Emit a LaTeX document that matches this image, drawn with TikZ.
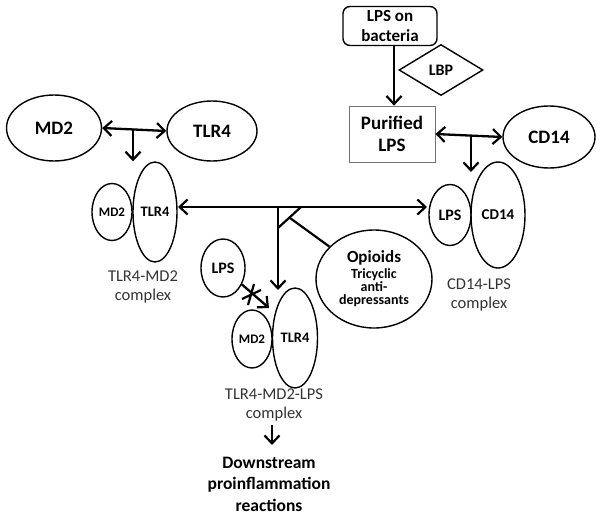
\documentclass[tikz,border=0pt]{standalone}
\usepackage{fontspec}
\setmainfont{Carlito}
\usetikzlibrary{arrows.meta,shapes.geometric}
\begin{document}
\begin{tikzpicture}[x=1pt,y=-1pt,
  ell/.style={draw,ellipse,line width=1.4pt,inner sep=0pt,font=\bfseries},
  big/.style={font=\fontsize{19}{19}\selectfont\bfseries},
  lab/.style={text=black!80,font=\fontsize{16.5}{19}\selectfont,align=center},
  tip/.tip={Straight Barb[length=8pt,width=15pt,line width=2.2pt]},
  arr/.style={line width=2.3pt,-tip},
  darr/.style={line width=2.3pt,tip-tip},
  ln/.style={line width=2.2pt}]
\useasboundingbox (0,0) rectangle (601,516);
% left top
\node[ell,big,minimum width=95pt,minimum height=66pt] (md2) at (54,128) {MD2};
\node[ell,big,minimum width=90pt,minimum height=60pt] (tlr4) at (212,131) {TLR4};
\coordinate (j1) at (133,129);
\draw[darr] (md2.east) -- (tlr4.west);
% TLR4-MD2 complex
\node[ell,minimum width=40pt,minimum height=57pt,font=\fontsize{13}{13}\selectfont\bfseries] (cmd2) at (112,212) {MD2};
\node[ell,minimum width=44pt,minimum height=100pt,font=\fontsize{14.5}{14.5}\selectfont\bfseries] (ctlr4) at (155,212) {TLR4};
\draw[arr] (j1) -- (ctlr4.north -| j1);
\node[lab] (clab1) at (143,287) {TLR4-MD2\\complex};
% right top
\node[draw,rounded corners=7pt,line width=1.4pt,minimum width=94pt,minimum height=39pt,align=center,font=\fontsize{17}{19.5}\selectfont\bfseries] (bac) at (390,26) {LPS on\\bacteria};
\node[draw,diamond,aspect=1.65,line width=1.4pt,inner sep=0pt,minimum width=84pt,minimum height=51pt,font=\fontsize{16}{16}\selectfont\bfseries] (lbp) at (441,70) {LBP};
\node[draw=black!55,line width=0.8pt,minimum width=86pt,minimum height=56pt,align=center,font=\fontsize{19}{22}\selectfont\bfseries] (pur) at (392,134) {Purified\\LPS};
\draw[arr] (bac.south -| 394,0) -- (pur.north -| 394,0);
\node[ell,big,minimum width=92pt,minimum height=62pt] (cd14) at (549,137) {CD14};
\draw[darr] (pur.east) -- (cd14.west);
% CD14-LPS complex
\node[ell,minimum width=42pt,minimum height=61pt,font=\fontsize{16}{16}\selectfont\bfseries] (clps) at (450,215) {LPS};
\node[ell,minimum width=54pt,minimum height=106pt,font=\fontsize{15}{15}\selectfont\bfseries] (ccd14) at (498,215) {CD14};
\coordinate (j2) at (471,135);
\draw[arr] (j2) -- (471,172);
\node[lab] (clab2) at (479,295) {CD14-LPS\\complex};
% central horizontal
\coordinate (hl) at (178,207);
\coordinate (hr) at (427,207);
\draw[darr] (hl) -- (hr);
\coordinate (j3) at (278,207);
\draw[arr] (j3) -- (278,290);
% inhibitor
\node[ell,minimum width=116pt,minimum height=98pt,align=center,font=\fontsize{14}{13}\selectfont\bfseries] (op) at (374,279) {\fontsize{17}{17}\selectfont Opioids\\[3pt]\fontsize{14}{13}\selectfont Tricyclic\\anti-\\depressants};
\coordinate (bar1) at (278,228);
\coordinate (bar2) at (301,207);
\coordinate (barm) at (290,218);
\draw[ln] (bar1) -- (bar2);
\draw[ln] (barm) -- (op);
% LPS and bottom complex
\node[ell,minimum width=44pt,minimum height=58pt,font=\fontsize{16}{16}\selectfont\bfseries] (lps) at (223,268) {LPS};
\node[ell,minimum width=40pt,minimum height=58pt,font=\fontsize{13}{13}\selectfont\bfseries] (bmd2) at (252,339) {MD2};
\node[ell,minimum width=45pt,minimum height=100pt,font=\fontsize{14.5}{14.5}\selectfont\bfseries] (btlr4) at (295,338) {TLR4};
\coordinate (lpsend) at (269,308);
\draw[arr] (lps) -- (lpsend);
\coordinate (x1) at (254,284);
\coordinate (x2) at (248,305);
\coordinate (x3) at (242,299);
\coordinate (x4) at (261,290);
\draw[ln] (x1) -- (x2) (x3) -- (x4);
\node[lab] (blab) at (274,405) {TLR4-MD2-LPS\\complex};
\coordinate (d1) at (272,425);
\coordinate (d2) at (272,445);
\draw[arr] (d1) -- (d2);
\node[align=center,font=\fontsize{17.5}{21.5}\selectfont\bfseries] (down) at (269,484) {Downstream\\proinflammation\\reactions};
\end{tikzpicture}
\end{document}
